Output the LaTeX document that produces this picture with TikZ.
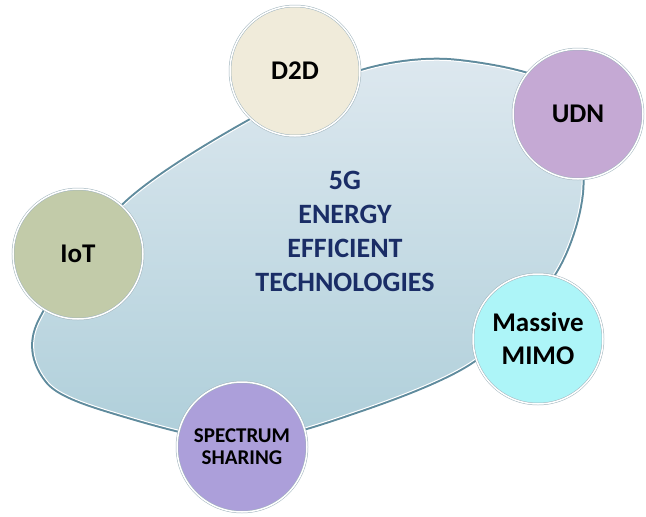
\documentclass[tikz,border=0pt]{standalone}
\usepackage{fontspec}
\setmainfont{Carlito}
\usetikzlibrary{positioning}
\definecolor{blobtop}{HTML}{DDE8EF}
\definecolor{blobbot}{HTML}{AFCFDA}
\definecolor{blobedge}{HTML}{5F8B9D}
\definecolor{navy}{HTML}{1A2D66}
\definecolor{dtdcream}{HTML}{F0EBDA}
\definecolor{udnlilac}{HTML}{C5A9D4}
\definecolor{iotsage}{HTML}{C2CBA9}
\definecolor{mimocyan}{HTML}{ADF5F8}
\definecolor{specpurple}{HTML}{AC9FDA}
\definecolor{ringgray}{HTML}{9FB3BC}

\newcommand\blobpath{plot[smooth cycle, tension=0.5] coordinates {
  (38,325) (48,382) (110,411) (240,440) (360,410) (474,360) (555,272)
  (582,185) (560,90) (454,61) (363,71) (248,122) (124,205)}}

\begin{document}
\begin{tikzpicture}[x=1pt, y=-1pt,
  tech/.style={circle, minimum size=130pt, inner sep=0pt, draw=ringgray,
    line width=0.5pt, double=white, double distance=1.5pt, align=center,
    font=\fontsize{27}{33}\selectfont\bfseries}]

\useasboundingbox (0,0) rectangle (646,517);

% Background blob
\draw[blobedge, line width=5pt] \blobpath;
\shade[top color=blobtop, bottom color=blobbot] \blobpath;
\draw[white, line width=1pt] \blobpath;

% Title
\node[text=navy, align=center, font=\fontsize{28}{34}\selectfont\bfseries]
  (core) at (345,231) {5G\\ENERGY\\EFFICIENT\\TECHNOLOGIES};

% Technologies
\node[tech, fill=dtdcream] (d2d) at (295,71) {D2D};
\node[tech, fill=udnlilac] (udn) at (578,114) {UDN};
\node[tech, fill=iotsage] (iot) at (78,254) {IoT};
\node[tech, fill=mimocyan] (mimo) at (538,339) {Massive\\MIMO};
\node[tech, fill=specpurple, font=\fontsize{21}{22}\selectfont\bfseries]
  (spec) at (242,447) {SPECTRUM\\SHARING};

\end{tikzpicture}
\end{document}
